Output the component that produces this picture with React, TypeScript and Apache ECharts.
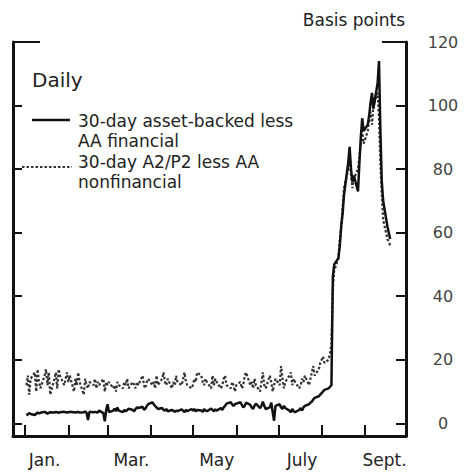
import React, { useEffect, useRef } from "react";
import * as echarts from "echarts";

// Daily spreads, basis points, one value per business day (Jan 2 – Sept 19, 2007)
const abJan = [2.5, 2.8, 3.2, 2.9, 2.6, 3.0, 3.4, 3.1, 3.3, 3.6, 3.4, 3.0, 3.3, 3.5, 3.4, 3.6, 3.5, 3.3, 3.5, 3.6, 3.5, 3.4];
const abFeb = [3.5, 3.6, 3.5, 3.4, 3.5, 3.6, 3.4, 3.5, 3.7, 3.3, 1.0, 3.6, 3.5, 3.6, 3.5, 3.4, 4.0, 3.2, 0.6, 4.2];
const abMar = [6.0, 3.5, 4.0, 4.6, 3.8, 5.0, 4.0, 3.5, 4.2, 3.8, 4.1, 4.6, 4.2, 3.8, 4.5, 5.0, 4.8, 5.2, 4.3, 4.6, 5.4, 6.0];
const abApr = [6.6, 6.0, 5.4, 5.0, 4.5, 4.8, 4.2, 4.0, 4.5, 3.8, 4.2, 4.0, 3.6, 4.0, 3.8, 4.4, 4.0, 3.5, 4.2, 3.8, 4.5];
const abMay = [4.0, 4.5, 3.8, 4.2, 4.0, 3.6, 4.5, 4.0, 3.8, 4.6, 4.2, 3.8, 4.4, 4.0, 4.8, 4.2, 5.0, 5.5, 6.2, 6.6, 6.0, 5.4, 6.0];
const abJun = [6.2, 6.6, 5.8, 5.0, 5.5, 6.5, 5.8, 5.0, 4.5, 5.5, 6.2, 4.8, 5.5, 6.8, 5.5, 4.5, 5.0, 6.5, 3.5, 0.8, 5.5];
const abJul = [6.0, 5.0, 4.5, 5.5, 4.8, 4.0, 3.5, 4.5, 3.8, 3.5, 4.2, 4.8, 4.0, 5.0, 5.5, 6.0, 6.5, 6.8, 7.5, 8.0, 8.5, 9.0];
const abAug = [9.5, 10.0, 10.5, 11.0, 11.5, 12.0, 46, 50, 52, 56, 62, 66, 72, 82, 87, 80, 76, 78, 73, 82, 90, 96, 92];
const abSep = [94, 97, 101, 104, 99, 107, 114, 92, 76, 70, 62, 60, 58];

const a2Jan = [12, 15, 9, 14, 16, 10, 17, 13, 11, 15, 17, 12, 16, 9, 14, 16, 11, 17, 15, 12, 14, 16];
const a2Feb = [13, 15, 10, 14, 12, 16, 13, 9, 14, 12, 11, 13, 12, 14, 11, 13, 12, 14, 10, 13];
const a2Mar = [12, 13, 11, 12, 10, 13, 12, 11, 13, 12, 14, 11, 13, 12, 11, 13, 12, 15, 12, 11, 13, 14];
const a2Apr = [12, 13, 11, 15, 12, 14, 16, 13, 12, 14, 11, 13, 12, 15, 13, 12, 14, 16, 13, 12, 11];
const a2May = [12, 14, 13, 16, 15, 13, 12, 14, 13, 11, 15, 12, 14, 13, 11, 12, 14, 15, 12, 11, 13, 12, 10];
const a2Jun = [12, 13, 11, 12, 15, 16, 12, 13, 11, 14, 12, 10, 13, 16, 12, 11, 15, 13, 10, 12, 14];
const a2Jul = [12, 18, 14, 11, 13, 15, 16, 12, 14, 13, 11, 12, 14, 13, 15, 12, 14, 16, 18, 15, 17, 19];
const a2Aug = [20, 21, 19, 20, 22, 25, 42, 48, 52, 58, 62, 68, 74, 80, 84, 78, 74, 77, 80, 84, 88, 92, 88];
const a2Sep = [92, 96, 98, 94, 100, 104, 96, 82, 72, 64, 58, 57, 56];

// x axis: day of year 2007 (0 = Jan 1)
const monthStartDays = [0, 31, 59, 90, 120, 151, 181, 212, 243];
const monthLabelDays = [14, 76, 137, 198, 257];
const monthLabels = ["Jan.", "Mar.", "May", "July", "Sept."];
const yTicks = [0, 20, 40, 60, 80, 100, 120];

const seriesNames = ["30-day asset-backed less AA financial", "30-day A2/P2 less AA nonfinancial"];
const legendLines1 = ["30-day asset-backed less", "AA financial"];
const legendLines2 = ["30-day A2/P2 less AA", "nonfinancial"];

const abValues = [...abJan, ...abFeb, ...abMar, ...abApr, ...abMay, ...abJun, ...abJul, ...abAug, ...abSep];
const a2Values = [...a2Jan, ...a2Feb, ...a2Mar, ...a2Apr, ...a2May, ...a2Jun, ...a2Jul, ...a2Aug, ...a2Sep];

function businessDays(n: number): number[] {
  const out: number[] = [];
  for (let d = 1; out.length < n; d++) {
    const wd = d % 7; // 0 = Monday (Jan 1, 2007)
    if (wd !== 5 && wd !== 6) out.push(d);
  }
  return out;
}

const FONT = "DejaVu Sans";

function legendText(text: string, x: number, y: number) {
  return {
    type: "text",
    x,
    y,
    style: { text, fontSize: 17, fontFamily: FONT, fill: "#222", align: "left", verticalAlign: "middle" },
  };
}

export default function App() {
  const ref = useRef<HTMLDivElement>(null);
  useEffect(() => {
    if (!ref.current) return;
    const chart = echarts.init(ref.current, undefined, { renderer: "svg" });
    const days = businessDays(abValues.length);
    const abData = days.map((d, i) => [d, abValues[i]]);
    const a2Data = days.map((d, i) => [d, a2Values[i]]);
    const ink = "#111";
    chart.setOption({
      animation: false,
      backgroundColor: "#fff",
      grid: { left: 13, right: 68, top: 42, bottom: 36 },
      xAxis: {
        type: "value",
        min: -8.6,
        max: 272.3,
        splitLine: { show: false },
        axisLine: { show: true, onZero: false, lineStyle: { color: ink, width: 3 } },
        axisTick: { show: true, inside: true, length: 11, customValues: monthStartDays, lineStyle: { color: ink, width: 2 } },
        axisLabel: {
          show: true,
          customValues: monthLabelDays,
          margin: 15,
          color: "#222",
          fontSize: 17,
          fontFamily: FONT,
          formatter: (v: number) => {
            const i = monthLabelDays.indexOf(v);
            return i >= 0 ? monthLabels[i] : "";
          },
        },
      },
      yAxis: [
        {
          type: "value",
          position: "right",
          min: -4,
          max: 120,
          splitLine: { show: false },
          axisLine: { show: true, onZero: false, lineStyle: { color: ink, width: 3 } },
          axisTick: { show: true, inside: true, length: 10, customValues: yTicks, lineStyle: { color: ink, width: 2 } },
          axisLabel: {
            show: true,
            customValues: yTicks,
            margin: 37,
            align: "center",
            color: "#444",
            fontSize: 16,
            fontFamily: FONT,
          },
        },
        {
          type: "value",
          position: "left",
          min: -4,
          max: 120,
          splitLine: { show: false },
          axisLine: { show: true, onZero: false, lineStyle: { color: ink, width: 3 } },
          axisTick: { show: true, inside: true, length: 9, customValues: yTicks, lineStyle: { color: ink, width: 2 } },
          axisLabel: { show: false },
        },
      ],
      series: [
        {
          name: seriesNames[1],
          type: "line",
          data: a2Data,
          showSymbol: false,
          lineStyle: { color: "#333", width: 2.2, type: [2.5, 2] },
          z: 2,
        },
        {
          name: seriesNames[0],
          type: "line",
          data: abData,
          showSymbol: false,
          lineStyle: { color: ink, width: 2.5 },
          z: 3,
        },
      ],
      graphic: [
        { type: "line", shape: { x1: 13, y1: 42, x2: 40, y2: 42 }, style: { stroke: ink, lineWidth: 2 } },
        { type: "line", shape: { x1: 382, y1: 42, x2: 406, y2: 42 }, style: { stroke: ink, lineWidth: 2 } },
        {
          type: "text",
          x: 405,
          y: 20,
          style: { text: "Basis points", fontSize: 17, fontFamily: FONT, fill: "#222", align: "right", verticalAlign: "middle" },
        },
        {
          type: "text",
          x: 32,
          y: 80,
          style: { text: "Daily", fontSize: 20, fontFamily: FONT, fill: "#222", align: "left", verticalAlign: "middle" },
        },
        { type: "line", shape: { x1: 32, y1: 120, x2: 70, y2: 120 }, style: { stroke: ink, lineWidth: 2.5 } },
        legendText(legendLines1[0], 78, 121),
        legendText(legendLines1[1], 78, 141),
        { type: "line", shape: { x1: 22, y1: 167, x2: 72, y2: 167 }, style: { stroke: "#333", lineWidth: 2, lineDash: [2.5, 2] } },
        legendText(legendLines2[0], 78, 162),
        legendText(legendLines2[1], 78, 182),
      ],
    });
    return () => chart.dispose();
  }, []);
  return <div ref={ref} style={{ position: "fixed", left: 0, top: 0, width: 474, height: 472 }} />;
}
